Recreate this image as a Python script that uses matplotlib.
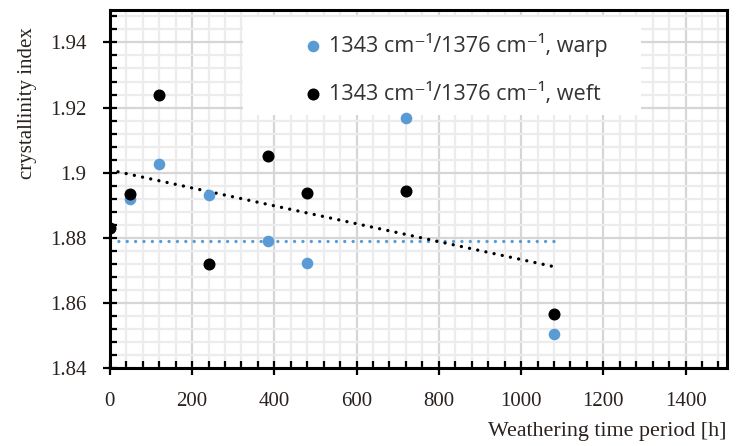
import matplotlib
matplotlib.use("Agg")
import matplotlib.pyplot as plt
import numpy as np
from matplotlib.patches import Rectangle
from matplotlib.ticker import MultipleLocator

# Weathering time [h]
hours_warp = [48, 120, 240, 384, 480, 720, 1080]
hours_weft = [0, 48, 120, 240, 384, 480, 720, 1080]

# Crystallinity index (1343/1376 band ratio)
ci_warp = [1.8921, 1.9027, 1.8931, 1.8792, 1.8723, 1.9167, 1.8505]
ci_weft = [1.8831, 1.8936, 1.9239, 1.8720, 1.9051, 1.8938, 1.8943, 1.8567]

# Trend lines: warp is a flat level, weft is a linear fit
warp_trend_level = 1.879
trend_x_range = [0, 1080]

label_warp = "1343 cm\u207b\u00b9/1376 cm\u207b\u00b9, warp"
label_weft = "1343 cm\u207b\u00b9/1376 cm\u207b\u00b9, weft"

blue = "#5B9BD5"
text_col = "#2a221e"
serif = ["Liberation Serif", "DejaVu Serif"]
sans = ["Open Sans", "DejaVu Sans"]

fig = plt.figure(figsize=(7.37, 4.46), dpi=100)
ax = fig.add_axes([0.149, 0.174, 0.837, 0.804])

# trend lines
tx = np.array(trend_x_range, dtype=float)
dots = (0, (0.01, 2.5))
ax.plot(tx, np.full_like(tx, warp_trend_level), color=blue, lw=2.4,
        linestyle=dots, dash_capstyle="round", zorder=2)
slope, intercept = np.polyfit(hours_weft, ci_weft, 1)
ax.plot(tx, slope * tx + intercept, color="black", lw=2.4,
        linestyle=dots, dash_capstyle="round", zorder=2)

ax.scatter(hours_warp, ci_warp, s=70, color=blue, zorder=3, label=label_warp,
           linewidths=0)
ax.scatter(hours_weft, ci_weft, s=75, color="black", zorder=4, label=label_weft,
           linewidths=0)

ax.set_xlim(0, 1500)
ax.set_ylim(1.84, 1.95)
ax.set_xticks([0, 200, 400, 600, 800, 1000, 1200, 1400])
ax.set_yticks([1.84, 1.86, 1.88, 1.90, 1.92, 1.94])
ax.set_yticklabels(["1.84", "1.86", "1.88", "1.9", "1.92", "1.94"])
ax.xaxis.set_minor_locator(MultipleLocator(40))
ax.yaxis.set_minor_locator(MultipleLocator(0.004))

ax.grid(which="major", color="#d6d6d6", lw=1.6, zorder=0)
ax.grid(which="minor", color="#ececec", lw=1.6, zorder=0)
ax.set_axisbelow(True)

for sp in ax.spines.values():
    sp.set_linewidth(2.2)
    sp.set_color("black")

ax.tick_params(which="major", direction="inout", length=10, width=1.6,
               labelsize=15)
ax.tick_params(axis="x", which="major", pad=12)
ax.tick_params(axis="y", which="major", pad=12)
ax.tick_params(which="minor", direction="in", length=5, width=1.6)
for lab in ax.get_xticklabels() + ax.get_yticklabels():
    lab.set_family(serif)
    lab.set_color(text_col)

ax.set_ylabel("crystallinity index", family=serif, fontsize=15,
              color=text_col)
ax.yaxis.set_label_coords(-0.118, 0.74)
ax.set_xlabel("Weathering time period [h]", family=serif, fontsize=15.8,
              color=text_col, loc="right", labelpad=8)

# white backdrop of the legend area
ax.add_patch(Rectangle((0.2156, 0.707), 0.646, 0.274, transform=ax.transAxes,
                       facecolor="white", edgecolor="none", zorder=1.5))

leg = ax.legend(loc="upper left", bbox_to_anchor=(0.2943, 0.966),
                frameon=False, prop={"family": sans, "size": 15.6},
                labelspacing=1.2, handletextpad=0.25, handlelength=1.0,
                borderpad=0.0, markerscale=1.0)
for t in leg.get_texts():
    t.set_color("#333333")

fig.savefig("out.png", dpi=100)
